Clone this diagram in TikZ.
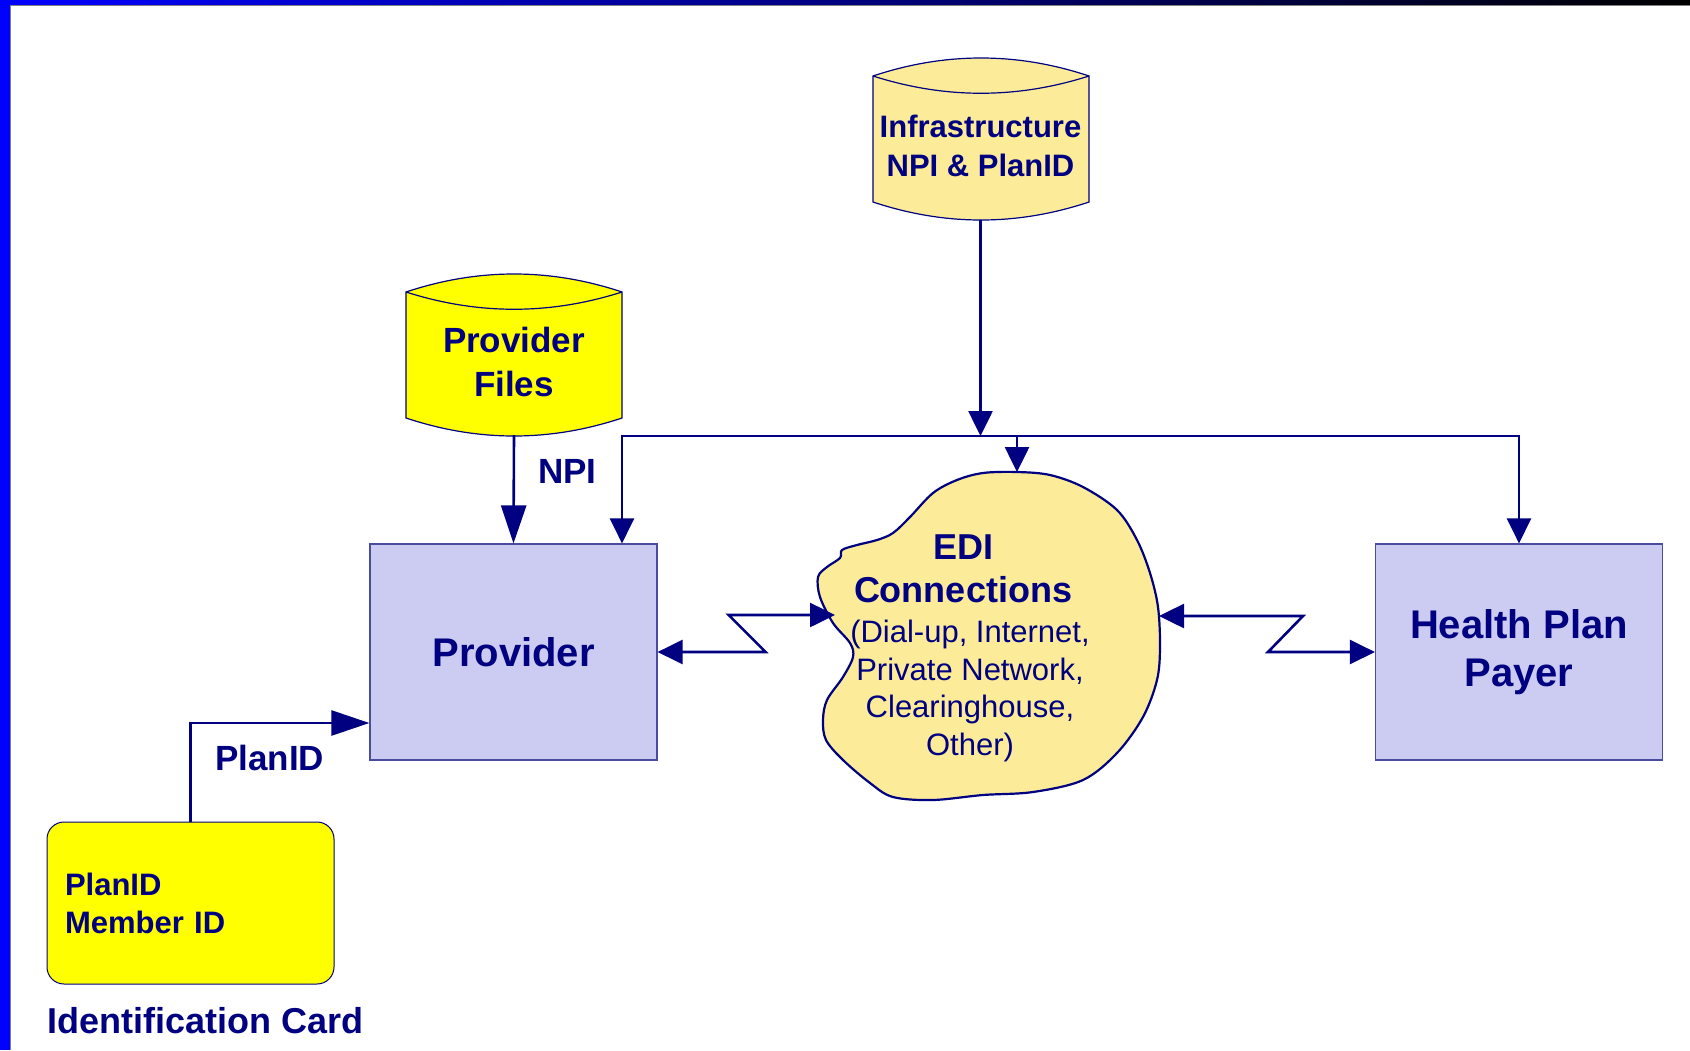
\documentclass[tikz,border=0pt]{standalone}
\usepackage{fontspec}
\setmainfont{Liberation Sans}
\usetikzlibrary{arrows.meta}

\definecolor{navy}{HTML}{000080}
\definecolor{paleyellow}{HTML}{FCEC9A}
\definecolor{cardyellow}{HTML}{FFFF00}
\definecolor{lavender}{HTML}{CCCCF2}
\definecolor{boxline}{HTML}{4B4BA0}

% database drum: #1 = left x, #2 = y of upper rim, #3 = fill
\newcommand\drawdrum[3]{%
  \begin{scope}[shift={(#1,#2)}]
    \filldraw[fill=#3,draw=navy,line width=1.2pt] (0,0) -- (0,126)
      .. controls (72,150) and (144,150) .. (216,126) -- (216,0)
      .. controls (144,-24) and (72,-24) .. cycle;
    \draw[navy,line width=1.2pt] (0,0) .. controls (72,23) and (144,23) .. (216,0);
  \end{scope}}

\tikzset{
  small/.tip={Triangle[length=25pt,width=24pt]},
  big/.tip={Triangle[length=38pt,width=25pt]},
  conn/.style={navy,line width=2.6pt},
  box/.style={draw=boxline,fill=lavender,line width=1.2pt,minimum width=287pt,
    minimum height=216pt,text=navy,align=center,
    font=\fontsize{40}{48}\selectfont\bfseries},
  drumtext/.style={text=navy,align=center,inner sep=0pt,minimum width=216pt},
  label/.style={text=navy,inner sep=0pt,font=\fontsize{35}{42}\selectfont\bfseries}
}

\begin{document}
\begin{tikzpicture}[x=1pt,y=-1pt]
  \useasboundingbox (0,0) rectangle (1690,1050);
  % slide frame
  \fill[white] (0,0) rectangle (1690,1050);
  \shade[left color=blue,right color=black] (0,0) rectangle (1690,5);
  \fill[blue] (0,0) rectangle (10,1050);
  \draw[gray,line width=1pt] (10.5,1050) -- (10.5,5.5) -- (1690,5.5);

  % databases
  \drawdrum{873}{76}{paleyellow}
  \drawdrum{406}{292}{cardyellow}
  \node[drumtext,minimum height=148pt,font=\fontsize{31}{39}\selectfont\bfseries]
    (infra) at (980.5,146) {Infrastructure\\NPI \& PlanID};
  \node[drumtext,minimum height=146pt,font=\fontsize{35}{44}\selectfont\bfseries]
    (provfiles) at (514,362) {Provider\\Files};

  % EDI cloud
  \filldraw[fill=paleyellow,draw=navy,line width=2.2pt] plot[smooth cycle,tension=0.55] coordinates {
    (1017,472) (1050,475) (1083,487) (1117,510) (1137,540) (1150,573) (1158,607)
    (1160,647) (1157,680) (1143,717) (1117,753) (1083,780) (1033,792) (983,795)
    (933,800) (893,797) (870,783) (843,760) (826,740) (823,720) (827,700)
    (843,677) (853,657) (850,643) (833,623) (820,597) (818,577) (827,567)
    (840,558) (842,550) (857,545) (877,540) (893,533) (910,517) (933,493)
    (957,480) (983,473)};
  \coordinate (ediTop) at (1017,472);
  \coordinate (ediWest) at (835,615);
  \coordinate (ediEast) at (1159,616);
  \node[text=navy,align=center,inner sep=0pt,font=\fontsize{36}{43}\selectfont\bfseries]
    (edi) at (963,568.5) {EDI\\Connections};
  \node[text=navy,align=center,inner sep=0pt,font=\fontsize{31}{37.5}\selectfont]
    (edinote) at (970,691) {(Dial-up, Internet,\\Private Network,\\Clearinghouse,\\Other)};

  % boxes
  \node[box] (provider) at (513.5,652) {Provider};
  \node[box] (payer) at (1519,652) {Health Plan\\Payer};

  % identification card
  \node[draw=navy,fill=cardyellow,line width=1pt,rounded corners=17pt,
    minimum height=162pt,text width=251pt,inner xsep=18pt,align=left,text=navy,
    font=\fontsize{31}{38}\selectfont\bfseries] (card) at (190.5,903) {PlanID\\Member ID};
  \node[label,anchor=base west,font=\fontsize{36}{42}\selectfont\bfseries]
    (cardname) at (47,1033) {Identification Card};

  % connectors
  \coordinate (busL) at (622,436);
  \coordinate (busR) at (1519,436);
  \draw[conn,{small}-{small}] (busL |- provider.north) -- (busL) -- (busR) -- (payer.north);
  \draw[conn,-{small}] (infra.south) -- (infra.south |- busL);
  \draw[conn,-{small}] (ediTop |- busL) -- (ediTop);
  \draw[conn,-{big}] (provfiles.south) -- (provider.north);
  \node[label,anchor=base west] (npi) at (538,483) {NPI};

  \draw[conn,{small}-{small}] (provider.east) -- ++(108,0) -- ++(-37,-37) -- (ediWest);
  \draw[conn,{small}-{small}] (ediEast) -- ++(144,0) -- ++(-35,36) -- (payer.west);

  \draw[conn,-{big}] (card.north) |- ([yshift=-71pt]provider.west);
  \node[label,anchor=base west] (plantag) at (215,770) {PlanID};
\end{tikzpicture}
\end{document}
